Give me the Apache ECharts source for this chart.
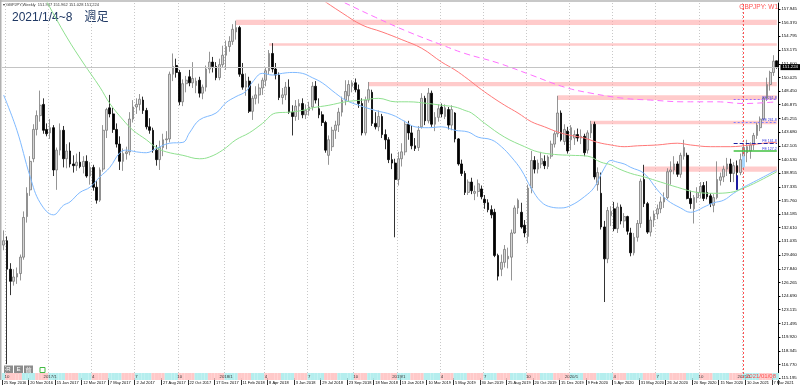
<!DOCTYPE html>
<html><head><meta charset="utf-8">
<script src="https://cdn.jsdelivr.net/npm/echarts@6/dist/echarts.min.js"></script>
<style>html,body{margin:0;padding:0;background:#fff}#c{width:800px;height:390px}</style>
</head><body><div id="c"></div>
<script>
// ---- data (GBPJPY weekly, week starting Sunday) ----
const firstWeek = '2016-09-25';
const opens = [130.6,131.1,127.8,126.4,126.9,127.3,129.2,133.9,137.0,140.6,144.0,145.6,146.9,144.0,143.6,144.2,139.3,141.6,143.9,140.6,
141.5,140.0,139.8,140.2,139.7,140.3,138.6,139.6,137.3,135.8,139.4,143.9,146.5,145.8,144.0,142.3,140.3,141.2,141.4,145.2,
146.6,146.9,147.4,146.2,144.3,143.9,141.6,140.5,141.9,142.8,142.9,150.4,151.4,150.6,147.2,149.3,150.1,149.4,149.1,149.7,
148.2,148.9,151.0,151.8,151.3,150.0,151.5,152.6,153.6,154.2,155.3,155.8,150.4,148.9,149.6,146.1,147.6,148.0,148.8,149.7,
150.8,152.8,151.0,150.3,147.7,148.0,148.9,146.0,145.5,146.7,147.0,145.7,146.2,146.6,149.0,146.4,145.7,144.8,141.0,142.0,
143.9,144.5,146.0,147.4,147.9,149.0,149.4,148.6,147.0,143.6,147.4,148.3,144.7,144.3,145.5,143.4,142.8,140.5,140.1,138.2,
140.6,141.4,144.6,143.6,142.1,141.9,144.3,147.6,145.0,148.2,144.6,145.4,146.6,145.5,146.3,144.5,145.9,142.9,140.0,138.9,
136.7,137.9,136.6,136.8,137.1,135.9,135.5,134.7,134.4,129.4,127.8,128.6,129.0,129.2,132.0,134.9,134.4,132.9,131.6,137.2,
140.4,139.4,140.0,140.3,139.7,140.9,142.3,143.5,145.9,142.6,143.8,142.8,143.0,143.4,143.0,143.2,141.6,143.6,144.6,137.6,
136.6,132.7,129.0,134.0,134.8,132.5,135.0,133.4,133.9,132.0,129.7,131.5,133.1,138.2,135.4,132.1,133.5,134.2,134.8,135.6,
136.1,139.1,139.3,140.0,138.8,140.9,141.0,136.0,134.8,136.1,136.7,137.5,136.7,136.3,135.2,136.1,138.1,138.5,139.4,140.0,
138.9,139.8,139.0,140.5,141.3,141.5,142.2,143.3,144.2,145.2,147.6,149.2,150.6,151.947];
const highs = [132.3,131.6,128.5,127.8,128.0,129.5,134.5,137.3,140.9,144.6,146.2,148.5,147.6,144.7,145.2,144.5,141.9,144.7,144.4,142.3,
142.5,141.0,141.2,141.4,140.9,141.0,140.2,139.9,138.0,139.6,144.5,146.5,148.0,146.5,144.7,143.2,141.8,142.0,146.0,147.4,
147.6,148.1,147.8,146.5,145.3,144.2,142.2,142.7,143.5,143.8,150.7,152.8,152.2,150.9,149.8,150.2,150.9,151.8,150.0,150.1,
149.2,151.4,153.0,152.4,151.8,152.2,153.7,154.3,154.8,156.2,156.6,156.0,151.7,150.5,150.1,147.9,149.0,149.3,150.0,151.2,
153.2,154.0,151.7,150.6,148.8,149.5,149.8,146.8,147.4,147.5,147.6,146.9,147.2,149.5,149.6,147.6,146.1,145.0,143.3,144.3,
145.0,146.5,147.8,149.7,149.7,149.7,149.9,149.2,147.6,147.8,149.5,148.6,146.0,146.2,145.8,144.0,143.1,141.2,140.6,141.4,
142.4,145.0,145.0,144.4,143.0,144.4,148.2,147.9,148.8,148.5,146.0,146.9,147.0,146.9,146.6,146.8,146.0,143.0,140.5,139.2,
138.2,138.4,137.5,138.2,137.5,136.4,135.9,135.2,134.8,129.6,129.5,130.6,130.3,132.4,135.2,136.0,135.5,133.5,137.6,141.5,
140.9,140.5,141.4,141.0,141.0,142.7,143.8,147.9,146.2,144.6,144.3,144.5,143.9,144.1,144.0,143.5,143.9,145.0,144.9,139.6,
139.0,133.4,135.0,135.1,135.6,135.5,135.3,134.3,134.0,132.6,132.0,133.5,138.3,139.9,135.6,133.9,134.6,135.3,136.2,136.7,
139.5,140.3,140.9,140.3,141.3,142.8,141.3,136.9,136.4,137.3,137.9,137.9,138.0,136.6,136.5,140.3,139.0,139.8,140.7,140.6,
140.2,140.4,141.2,142.1,142.8,142.5,143.6,144.8,145.5,147.8,150.0,150.8,152.6,151.962];
const lows = [130.0,116.8,124.8,125.9,126.1,126.5,128.9,133.2,136.3,140.2,143.3,144.9,143.5,143.2,142.9,138.6,137.0,141.0,139.6,139.5,
139.6,139.0,139.2,139.5,138.9,138.4,137.6,136.9,135.4,135.6,139.1,143.0,145.4,143.6,141.9,139.3,139.2,140.5,141.0,144.8,
145.8,146.2,145.8,144.0,143.5,141.3,139.8,139.3,140.9,141.7,142.5,149.6,150.0,146.8,146.7,148.3,149.0,148.8,148.2,147.7,
147.5,148.4,150.5,150.6,149.7,149.7,151.2,150.9,153.0,153.8,154.4,150.1,148.6,147.9,145.9,145.1,146.9,147.0,148.0,149.0,
150.4,150.6,149.8,147.4,146.9,147.4,145.8,143.3,145.0,145.1,145.3,145.2,145.6,146.2,147.0,145.3,144.4,141.3,139.9,141.5,
142.9,143.7,145.5,146.8,147.3,148.3,148.3,146.5,143.3,143.3,147.1,144.4,144.0,143.8,143.0,141.7,140.1,139.4,131.5,137.5,
139.7,141.0,142.8,141.7,141.5,141.5,144.1,144.5,144.7,144.3,143.8,144.9,145.4,145.2,144.0,143.9,142.5,139.8,138.6,136.4,
136.4,136.5,135.8,136.2,135.9,134.8,134.4,133.7,129.2,126.5,127.0,128.0,127.9,126.5,131.9,134.2,132.5,131.5,130.8,136.6,
138.9,138.9,139.5,139.4,139.4,140.6,141.9,143.1,142.6,142.2,141.2,141.6,142.2,142.6,142.3,140.9,141.2,143.0,138.2,136.9,
132.4,124.0,128.5,132.8,132.2,132.0,133.0,132.6,131.8,129.3,129.4,131.0,132.6,135.0,131.9,131.6,132.7,133.6,134.3,134.9,
135.9,137.6,138.8,138.5,138.4,140.5,135.9,134.8,133.1,135.5,136.0,135.7,135.9,135.0,134.4,135.9,137.5,137.9,138.6,137.9,
137.9,137.0,138.7,139.4,140.2,140.6,141.6,142.9,143.8,145.0,147.3,148.5,150.2,151.028];
const closes = [131.1,127.8,126.4,126.9,127.3,129.2,133.8,136.6,140.3,144.0,145.6,146.8,143.9,143.5,144.2,139.3,141.6,143.9,140.6,141.5,
140.0,139.8,140.2,139.7,140.3,138.6,139.6,137.3,135.8,139.3,143.9,146.3,145.8,144.0,142.3,140.3,141.2,141.4,145.2,146.6,
146.9,147.5,146.2,144.3,143.9,141.6,140.5,141.9,142.8,142.9,150.4,151.3,150.6,147.2,149.3,149.7,149.4,149.9,149.6,148.2,
148.9,151.0,151.8,151.3,150.0,151.5,152.6,153.6,154.2,155.6,155.8,150.4,148.9,149.6,146.1,147.6,148.0,148.8,149.7,150.8,
152.8,151.0,150.3,147.7,148.0,148.9,146.0,145.5,146.7,147.0,145.7,146.2,146.6,149.0,147.4,145.7,144.8,141.6,142.8,143.9,
144.5,146.0,147.4,148.4,149.2,149.4,148.6,147.0,143.6,147.4,148.6,144.7,144.3,145.5,143.4,142.8,140.5,140.1,138.2,140.6,
141.4,144.6,143.6,142.1,141.8,143.9,147.6,145.0,148.2,144.6,145.4,146.4,145.8,146.5,144.5,146.3,142.9,140.0,138.9,136.7,
137.9,136.9,136.8,137.7,136.2,135.5,134.7,134.1,129.4,127.0,128.6,130.1,129.3,132.0,134.9,135.8,132.7,132.0,137.2,140.4,
139.4,140.1,140.6,139.8,140.8,142.3,143.5,145.9,142.8,144.0,141.5,144.2,143.4,143.0,143.2,141.3,143.6,144.6,138.5,139.0,
132.7,129.0,134.6,134.5,132.5,135.0,133.4,133.9,132.2,129.7,131.5,133.1,138.0,135.4,132.1,133.5,134.2,134.8,135.6,136.1,
139.1,139.3,140.0,138.8,141.0,141.9,136.0,135.4,136.1,136.7,137.4,136.0,136.2,135.4,136.1,138.2,138.5,139.4,140.0,138.9,
139.8,139.0,140.5,141.9,142.0,142.2,143.3,144.5,145.2,147.6,149.2,150.6,151.9,151.224];

// tick labels
const dateTickLabels = ['25 Sep 2016','20 Nov 2016','15 Jan 2017','12 Mar 2017','7 May 2017','2 Jul 2017','27 Aug 2017','22 Oct 2017',
'17 Dec 2017','11 Feb 2018','8 Apr 2018','3 Jun 2018','29 Jul 2018','23 Sep 2018','18 Nov 2018','13 Jan 2019','10 Mar 2019',
'5 May 2019','30 Jun 2019','25 Aug 2019','20 Oct 2019','15 Dec 2019','9 Feb 2020','5 Apr 2020','31 May 2020','26 Jul 2020',
'20 Sep 2020','15 Nov 2020','10 Jan 2021','7 Mar 2021'];
const quarterLabels = ['10','2017/1','4','7','10','2018/1','4','7','10','2019/1','4','7','10','2020/1','4','7','10','2021/1'];
const priceTicks = [157.945,156.370,154.795,153.175,151.600,150.025,148.450,146.875,145.255,143.680,142.105,140.530,138.955,
137.335,135.760,134.185,132.610,131.035,129.460,127.840,126.265,124.690,123.115,121.495,119.920,118.345,116.770,115.195];

// moving averages: [week index, price]
const blueMA = [[0,147.98],[4,143.9],[8,138.5],[11,135.5],[15,134.1],[18,135.2],[20,135.6],[23,136.7],[26,137.3],[29,138.5],[32,139.6],
[35,141.3],[37,141.6],[40,141.4],[43,141.3],[46,141.8],[50,142.4],[54,142.5],[56,143.6],[59,145.1],[64,145.9],[67,147.1],[70,147.8],
[73,148.4],[75,149.5],[78,150.5],[81,150.3],[84,150.5],[87,150.6],[90,150.5],[93,150.0],[96,149.4],[100,148.2],[103,147.4],[107,146.8],
[112,146.2],[117,145.7],[121,144.9],[124,144.3],[128,144.2],[132,144.3],[136,143.9],[140,143.7],[143,143.1],[147,142.8],[150,142.0],
[153,140.8],[156,139.3],[159,137.2],[162,135.6],[165,135.0],[168,134.9],[171,135.2],[175,136.2],[178,137.3],[181,139.5],[183,140.4],
[185,140.2],[187,140.0],[189,139.6],[193,138.9],[197,137.0],[200,135.8],[204,134.9],[207,134.4],[209,134.6],[211,135.0],[214,135.5],
[217,135.8],[220,136.6],[223,137.3],[226,137.9],[229,138.5],[233,139.3]];
const greenMA = [[12,159.6],[13,158.8],[19,154.7],[24,151.7],[29,148.9],[32,147.0],[36,145.1],[39,143.9],[43,142.8],[46,141.9],[49,141.4],
[54,141.0],[59,140.6],[62,140.8],[66,141.6],[70,142.8],[74,143.6],[78,144.7],[82,145.9],[86,146.0],[90,146.2],[93,146.5],[98,146.8],
[103,147.2],[108,147.4],[113,147.6],[118,147.2],[122,147.2],[128,147.0],[132,146.8],[136,146.6],[139,146.2],[141,145.9],[145,144.7],
[151,143.1],[157,142.0],[161,141.4],[166,141.1],[171,141.0],[176,140.9],[180,140.2],[183,139.9],[185,139.5],[189,138.9],[193,138.5],
[198,137.9],[203,137.3],[209,136.7],[214,136.6],[219,136.7],[223,137.2],[227,137.9],[233,139.1]];
const redMA = [[94,159.6],[95,159.3],[102,157.5],[108,156.1],[114,155.3],[120,154.4],[126,153.4],[132,151.8],[136,150.9],[140,149.8],
[143,148.9],[147,147.8],[151,146.8],[155,145.9],[159,144.9],[163,144.3],[167,143.7],[171,143.3],[175,143.0],[179,142.5],[183,142.2],
[187,142.0],[191,142.1],[197,142.2],[203,142.4],[207,142.2],[213,142.0],[219,142.0],[225,142.2],[229,142.4],[233,142.5]];
const magentaMA = [[100,159.2],[101,159.0],[112,157.0],[122,155.3],[132,153.8],[139,152.8],[149,151.7],[159,150.3],[169,148.9],
[177,148.2],[187,147.6],[195,147.4],[205,147.2],[215,147.2],[223,147.0],[233,147.2]];

// resistance zones: [start week, low, high]
const zones = [[70,156.1,156.7],[80,153.7,154.0],[110,149.0,149.5],[167,147.4,147.95],[177,144.6,145.0],[193,139.1,139.7]];
// fibonacci expansion levels
const feLevels = [147.45,144.85,142.4,141.55];
const feNames = ['FE 261.8','FE 261.8','FE 161.8','FE 127.2'];
const lastPrice = 151.224;
const markerWeek = 223;

// ---- build ----
const DAY = 86400000;
const t0 = Date.parse(firstWeek + 'T00:00:00Z');
const cats = opens.map((_, i) => new Date(t0 + i * 7 * DAY).toISOString().slice(0, 10));
const months = cats.map(c => +c.slice(5, 7));
const qStart = new Map();
let qi = 0;
for (let i = 1; i < cats.length; i++) {
  if (months[i] !== months[i - 1] && (months[i] - 1) % 3 === 0) qStart.set(i, quarterLabels[qi++]);
}
const candles = opens.map((o, i) => [o, closes[i], lows[i], highs[i]]);
const PINK = '#ffc9c9', CYAN = '#b5eeee';
const bandData = months.map(m => ({ value: 1, itemStyle: { color: (m % 2 === 1) ? CYAN : PINK } }));

const chart = echarts.init(document.getElementById('c'), null, { renderer: 'canvas' });
const small = "'Liberation Sans', Arial, sans-serif";
const lastIdx = cats.length - 1;

const feLines = [];
const feColors = ['#9a6cff', '#7f7fff', '#2020a0', '#40c040'];
const feTypes = [[2, 2], [2, 2], [4, 2], 'solid'];
feLevels.forEach((v, k) => {
  feLines.push([
    { coord: [cats[220], v], lineStyle: { color: feColors[k], type: feTypes[k], width: k === 3 ? 1.5 : 1 },
      label: { show: true, position: 'insideEndTop', formatter: feNames[k], fontSize: 3.6, color: '#3333dd', fontFamily: small, distance: 0 } },
    { coord: [cats[lastIdx], v] }
  ]);
});

const option = {
  animation: false,
  backgroundColor: '#fff',
  grid: [
    { left: 2, right: 21, top: 3, bottom: 12 },
    { left: 2, right: 21, top: 373, height: 7 }
  ],
  xAxis: [
    { type: 'category', gridIndex: 0, data: cats, boundaryGap: true,
      axisLine: { show: false },
      axisTick: { show: true, interval: 7, length: 7, lineStyle: { color: '#333', width: 1 } },
      axisLabel: { interval: 7, align: 'left', margin: 3, fontSize: 4, color: '#000', fontFamily: small,
        formatter: (v, idx) => dateTickLabels[Math.round(idx / 8)] || '' },
      splitLine: { show: true, interval: (idx) => qStart.has(idx), lineStyle: { color: '#c8c8c8', type: [1, 2], width: 1 } } },
    { type: 'category', gridIndex: 1, data: cats, boundaryGap: true,
      axisLine: { show: false }, axisTick: { show: false }, axisLabel: { show: false } }
  ],
  yAxis: [
    { type: 'value', gridIndex: 0, position: 'right', min: 115.195, max: 158.65, scale: true,
      splitLine: { show: false },
      axisLine: { show: true, lineStyle: { color: '#000', width: 1 } },
      axisTick: { show: true, length: 2, customValues: priceTicks, lineStyle: { color: '#000' } },
      axisLabel: { customValues: priceTicks, formatter: v => v.toFixed(3), fontSize: 4.3, color: '#000', margin: 3, fontFamily: small } },
    { type: 'value', gridIndex: 1, min: 0, max: 1, show: false }
  ],
  series: [
    { type: 'candlestick', xAxisIndex: 0, yAxisIndex: 0, data: candles, barWidth: 2.2,
      itemStyle: { color: '#d4d4d4', borderColor: '#7a7a7a', color0: '#000', borderColor0: '#000', borderWidth: 0.8 },
      markArea: { silent: true, itemStyle: { color: 'rgba(255,160,160,0.55)' },
        data: zones.map(z => [{ xAxis: cats[z[0]], yAxis: z[1] }, { xAxis: cats[lastIdx], yAxis: z[2] }]) },
      markLine: { silent: true, symbol: ['none', 'none'], animation: false,
        data: [
          { yAxis: lastPrice, lineStyle: { color: '#c4c4c4', type: 'solid', width: 1 },
            label: { show: true, position: 'end', formatter: lastPrice.toFixed(3), backgroundColor: '#000', color: '#fff',
              fontSize: 4.3, padding: [1, 2, 1, 2], distance: 2, fontFamily: small } },
          { xAxis: cats[markerWeek], lineStyle: { color: '#ff5050', type: [2, 2], width: 1 }, label: { show: false } },
          [{ coord: [cats[221], 138.7], lineStyle: { color: '#1a1aa0', type: 'solid', width: 2 }, label: { show: false } }, { coord: [cats[221], 137.0] }],
          [{ coord: [cats[223], 140.9], lineStyle: { color: '#a8d8ff', type: 'solid', width: 3 }, label: { show: false } }, { coord: [cats[223], 139.6] }],
          ...feLines
        ] } },
    { type: 'line', data: blueMA, showSymbol: false, smooth: 0.4, lineStyle: { color: '#7fbaff', width: 1 }, silent: true },
    { type: 'line', data: greenMA, showSymbol: false, smooth: 0.4, lineStyle: { color: '#8fe08f', width: 1 }, silent: true },
    { type: 'line', data: redMA, showSymbol: false, smooth: 0.4, lineStyle: { color: '#ff7878', width: 1 }, silent: true },
    { type: 'line', data: magentaMA, showSymbol: false, smooth: 0.4, lineStyle: { color: '#ff70ff', width: 1, type: [6, 4] }, silent: true },
    { type: 'bar', xAxisIndex: 1, yAxisIndex: 1, data: bandData, barCategoryGap: 0, barGap: 0, silent: true,
      label: { show: true, position: 'inside', fontSize: 4.3, color: '#333', fontFamily: small,
        formatter: p => qStart.get(p.dataIndex) || '' } }
  ],
  graphic: [
    { type: 'rect', left: 0, top: 0, shape: { width: 780, height: 2 }, style: { fill: '#c8c8c8' }, silent: true },
    { type: 'rect', left: 0, top: 0, shape: { width: 1.5, height: 380 }, style: { fill: '#b0b0b0' }, silent: true },
    { type: 'text', left: 3, top: 3, style: { text: '\u25BE GBPJPY,Weekly  151.947 151.962 151.028 151.224', fontSize: 4, fill: '#333', fontFamily: small } },
    { type: 'text', left: 12, top: 12, style: { text: '2021/1/4~8\u3000\u9031\u8DB3', fontSize: 12, fill: '#1f3864', fontFamily: "'Liberation Sans','Noto Sans CJK JP'" } },
    { type: 'text', right: 22, top: 4, style: { text: 'GBPJPY: W1', fontSize: 6.5, fill: '#ff5050', fontFamily: small } },
    { type: 'text', left: 746, top: 373, z: 100, style: { text: '2021/01/08', fontSize: 6, fill: '#ff5050', fontFamily: small } },
    { type: 'group', left: 4, top: 365, children: [
      { type: 'rect', shape: { x: 0, y: 0, width: 9, height: 8 }, style: { fill: '#8c8c8c' } },
      { type: 'text', x: 4.5, y: 4, style: { text: 'R', fontSize: 6, fill: '#fff', align: 'center', verticalAlign: 'middle', fontFamily: small } },
      { type: 'rect', shape: { x: 10, y: 0, width: 9, height: 8 }, style: { fill: '#8c8c8c' } },
      { type: 'text', x: 14.5, y: 4, style: { text: 'E', fontSize: 6, fill: '#fff', align: 'center', verticalAlign: 'middle', fontFamily: small } },
      { type: 'rect', shape: { x: 20, y: 0, width: 9, height: 8 }, style: { fill: '#8c8c8c' } },
      { type: 'text', x: 24.5, y: 4, style: { text: '\u524D', fontSize: 6, fill: '#fff', align: 'center', verticalAlign: 'middle', fontFamily: "'Noto Sans CJK JP'" } },
      { type: 'rect', shape: { x: 36, y: 2, width: 5, height: 5 }, style: { fill: 'none', stroke: '#44bb44', lineWidth: 1 } }
    ] }
  ]
};
chart.setOption(option);
</script></body></html>
